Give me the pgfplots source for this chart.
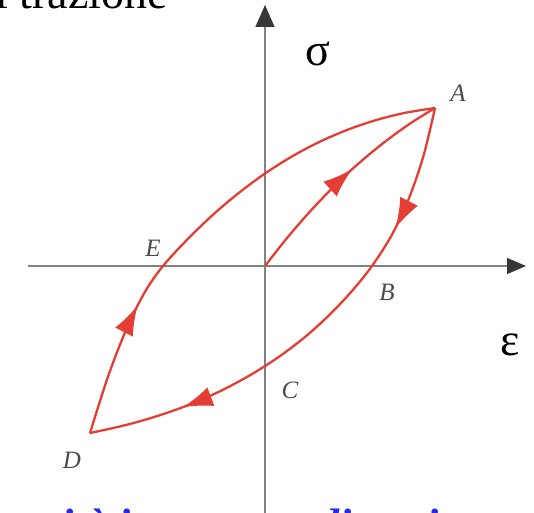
\documentclass[border=0pt]{standalone}
\usepackage{fontspec}
\setmainfont{Liberation Serif}
\usepackage{pgfplots}
\pgfplotsset{compat=1.18}
\usetikzlibrary{arrows.meta,decorations.markings}
\definecolor{loopred}{RGB}{228,62,52}
\definecolor{axgray}{RGB}{130,130,130}
\definecolor{headgray}{RGB}{55,55,55}
\definecolor{lblgray}{RGB}{75,75,75}
\definecolor{txtblue}{RGB}{40,40,235}
\tikzset{
  loopcurve/.style={loopred, line width=2.3pt, smooth, tension=0.55, no marks},
  arrowat/.style={postaction={decorate}, decoration={markings,
     mark=at position #1 with {\arrow{Latex[length=30pt,width=20pt]}}}},
  twoarrows/.style 2 args={postaction={decorate}, decoration={markings,
     mark=at position #1 with {\arrow{Latex[length=30pt,width=20pt]}},
     mark=at position #2 with {\arrow{Latex[length=30pt,width=20pt]}}}},
  lbl/.style={text=lblgray, font=\fontsize{25}{28}\selectfont\itshape, inner sep=0pt},
}
\begin{document}
\begin{tikzpicture}
\begin{axis}[width=534pt, height=512pt, scale only axis,
  xmin=0, xmax=534, ymin=0, ymax=512, hide axis, clip=false]
% axes
\draw[axgray, line width=1.3pt, -{Triangle[length=19pt,width=16pt,color=headgray]}]
   (axis cs:28,246) -- (axis cs:526,246);
\draw[axgray, line width=1.3pt, -{Triangle[length=22pt,width=19pt,color=headgray]}]
   (axis cs:265,-5) -- (axis cs:265,507);
% initial loading O -> A
\addplot[loopcurve, arrowat=0.56] coordinates {
  (265,246) (285.0,271.5) (305.4,295.4) (326.1,317.6) (347.1,338.2)
  (368.6,357.1) (390.4,374.4) (412.4,390.0) (435,404)};
% unloading A -> B -> C -> D
\addplot[loopcurve, twoarrows={0.25}{0.81}] coordinates {
  (435,404) (423.6,356.6) (409.25,314.5) (392.1,277.6) (372,246)
  (351.6,220.6) (329.4,197.1) (305.6,175.5) (279.9,155.9) (252.6,138.3)
  (223.5,122.5) (192.8,108.7) (160.2,96.9) (126.0,87.0) (90,79)};
% reloading D -> E -> A
\addplot[loopcurve, arrowat=0.27] coordinates {
  (90,79) (108.4,136.5) (126.7,183.5) (144.9,220.0) (163,246)
  (187.6,272.8) (212.8,297.1) (238.7,319.0) (265,338.5) (291.9,355.5)
  (319.4,370.1) (347.5,382.2) (376.0,391.9) (405.2,399.2) (435,404)};
% labels
\node[lbl] at (axis cs:458,419) {A};
\node[lbl] at (axis cs:387,220) {B};
\node[lbl] at (axis cs:290,122) {C};
\node[lbl] at (axis cs:72,52) {D};
\node[lbl] at (axis cs:153,264) {E};
\node[inner sep=0pt, font=\fontsize{46}{50}\selectfont] at (axis cs:318,458) {σ};
\node[inner sep=0pt, font=\fontsize{46}{50}\selectfont] at (axis cs:510,167) {ε};
% cropped surrounding text
\node[anchor=base east, inner sep=0pt, font=\fontsize{46}{50}\selectfont] at (axis cs:168,503) {di trazione};
\node[anchor=base west, inner sep=0pt, text=txtblue, font=\fontsize{44}{48}\selectfont\bfseries\itshape] at (axis cs:12,-27) {unità in un caso di attrito};
\end{axis}
\pgfresetboundingbox
\path[use as bounding box] (0,0) rectangle (534pt,512pt);
\end{tikzpicture}
\end{document}
